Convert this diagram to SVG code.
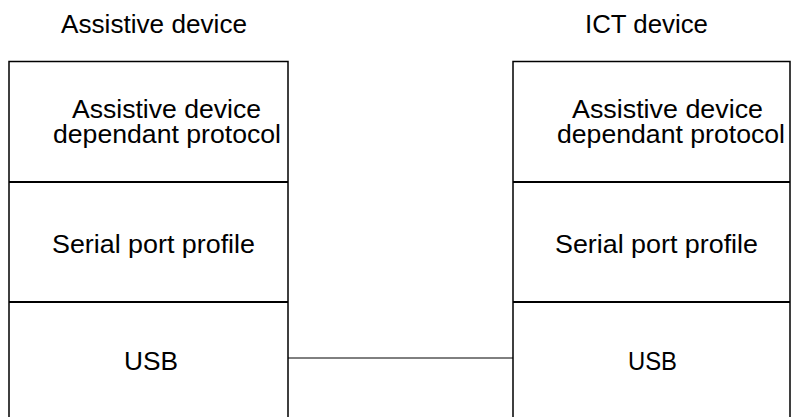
<svg xmlns="http://www.w3.org/2000/svg" width="793" height="417" viewBox="0 0 793 417">
<style>
.box{fill:none;stroke:#000;stroke-width:1.5}
.div{stroke:#000;stroke-width:2}
.conn{stroke:#000;stroke-width:1;fill:none}
text{font-family:"Liberation Sans",Arial,sans-serif;font-size:26.5px;fill:#000}
</style>
<rect width="793" height="417" fill="#fff"/>
<g id="title-left"><text x="61" y="33" textLength="186" lengthAdjust="spacingAndGlyphs">Assistive device</text></g>
<g id="title-right"><text x="585" y="33" textLength="123" lengthAdjust="spacingAndGlyphs">ICT device</text></g>
<g id="left-stack">
<path class="box" d="M9,418 V61.5 H288 V418"/>
<line class="div" x1="9" y1="182" x2="288" y2="182"/>
<line class="div" x1="9" y1="302" x2="288" y2="302"/>
<text x="72" y="118" textLength="189" lengthAdjust="spacingAndGlyphs">Assistive device</text>
<text x="53" y="143" textLength="228" lengthAdjust="spacingAndGlyphs">dependant protocol</text>
<text x="52" y="253" textLength="203" lengthAdjust="spacingAndGlyphs">Serial port profile</text>
<text x="124" y="370" textLength="54" lengthAdjust="spacingAndGlyphs">USB</text>
</g>
<g id="right-stack">
<path class="box" d="M513,418 V61.5 H790 V418"/>
<line class="div" x1="513" y1="182" x2="790" y2="182"/>
<line class="div" x1="513" y1="302" x2="790" y2="302"/>
<text x="572" y="118" textLength="191" lengthAdjust="spacingAndGlyphs">Assistive device</text>
<text x="557" y="143" textLength="228" lengthAdjust="spacingAndGlyphs">dependant protocol</text>
<text x="555" y="253" textLength="203" lengthAdjust="spacingAndGlyphs">Serial port profile</text>
<text x="628" y="370" textLength="49" lengthAdjust="spacingAndGlyphs">USB</text>
</g>
<g id="connectors">
<line class="conn" x1="288" y1="358" x2="513" y2="358"/>
</g>
</svg>
